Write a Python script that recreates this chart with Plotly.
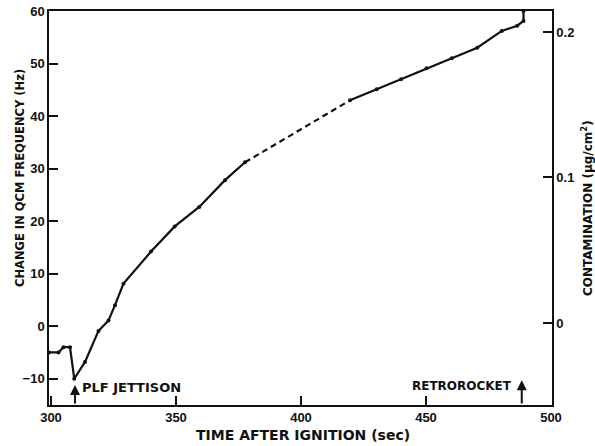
import plotly.graph_objects as go

# Solid measured segments (time after ignition, s ; change in QCM frequency, Hz)
t_early = [299.2, 303, 305, 307.6, 309.3, 313.6, 319, 323, 325.6, 329, 340, 349.5, 359.3, 369.6, 377.6]
hz_early = [-5, -5, -4, -4, -10, -6.8, -0.9, 1.1, 4, 8.1, 14.2, 19, 22.7, 27.8, 31.2]
# Dashed (interpolated gap)
t_gap = [377.6, 419.6]
hz_gap = [31.2, 43]
# Late solid segment
t_late = [419.6, 430.3, 440, 450.2, 460.3, 470.5, 480.3, 486.5, 489, 489]
hz_late = [43, 45.1, 47, 49.1, 51, 53, 56.2, 57.2, 58.1, 60]

x_ticks = [300, 350, 400, 450, 500]
y_ticks = [-10, 0, 10, 20, 30, 40, 50, 60]
c_ticks = [0, 0.1, 0.2]
c_labels = ["0", "0.1", "0.2"]

FONT = "Liberation Sans"
WIDE = "DejaVu Sans"
ink = "#111111"

fig = go.Figure()
fig.add_trace(go.Scatter(x=t_early, y=hz_early, mode="lines+markers",
                         line=dict(color=ink, width=2.2), marker=dict(size=4, color=ink),
                         showlegend=False))
fig.add_trace(go.Scatter(x=t_gap, y=hz_gap, mode="lines",
                         line=dict(color=ink, width=2.2, dash="6px,4px"), showlegend=False))
fig.add_trace(go.Scatter(x=t_late, y=hz_late, mode="lines+markers",
                         line=dict(color=ink, width=2.2), marker=dict(size=4, color=ink),
                         showlegend=False))
# invisible trace for secondary axis
fig.add_trace(go.Scatter(x=[300], y=[0], yaxis="y2", mode="markers",
                         marker=dict(opacity=0), showlegend=False, hoverinfo="skip"))

tickfont = dict(family=FONT, size=13, color=ink, weight="bold")

fig.update_layout(
    width=595, height=446,
    margin=dict(l=49, r=43, t=11, b=41),
    paper_bgcolor="white", plot_bgcolor="white",
    xaxis=dict(range=[299.2, 500.4], tickvals=x_ticks, ticks="inside", ticklen=9,
               tickwidth=1.5, tickcolor=ink, showline=True, linecolor=ink, linewidth=1.5,
               mirror=True, showgrid=False, zeroline=False, tickfont=tickfont, automargin=False),
    yaxis=dict(range=[-15, 60], tickvals=y_ticks, ticks="inside", ticklen=9,
               tickwidth=1.5, tickcolor=ink, showline=True, linecolor=ink, linewidth=1.5,
               showgrid=False, zeroline=False, tickfont=tickfont, automargin=False),
    yaxis2=dict(range=[-0.0564, 0.2144], overlaying="y", side="right",
                tickvals=c_ticks, ticktext=c_labels, ticks="inside", ticklen=9,
                tickwidth=1.5, tickcolor=ink, showline=True, linecolor=ink, linewidth=1.5,
                showgrid=False, zeroline=False, tickfont=tickfont, automargin=False),
)

fig.add_annotation(text="TIME AFTER IGNITION (sec)", xref="paper", yref="paper",
                   x=0.504, y=-0.076, xanchor="center", yanchor="middle", showarrow=False,
                   font=dict(family=WIDE, size=14, color=ink, weight="bold"))
fig.add_annotation(text="CHANGE IN QCM FREQUENCY (Hz)", xref="paper", yref="paper",
                   x=-0.0577, y=0.576, xanchor="center", yanchor="middle", textangle=-90,
                   showarrow=False, font=dict(family=WIDE, size=11.5, color=ink, weight="bold"))
fig.add_annotation(text="CONTAMINATION (μg/cm<sup>2</sup>)", xref="paper", yref="paper",
                   x=1.0696, y=0.5, xanchor="center", yanchor="middle", textangle=-90,
                   showarrow=False, font=dict(family=WIDE, size=12, color=ink, weight="bold"))

# Event arrows
fig.add_annotation(x=309.6, y=-11.2, ax=309.6, ay=-15, xref="x", yref="y", axref="x", ayref="y",
                   text="", showarrow=True, arrowhead=2, arrowsize=1, arrowwidth=2, arrowcolor=ink)
fig.add_annotation(text="PLF JETTISON", x=311.5, y=-11.6, xref="x", yref="y", xanchor="left",
                   showarrow=False, font=dict(family=WIDE, size=13, color=ink, weight="bold"))
fig.add_annotation(x=488.3, y=-10.3, ax=488.3, ay=-15, xref="x", yref="y", axref="x", ayref="y",
                   text="", showarrow=True, arrowhead=2, arrowsize=1, arrowwidth=2, arrowcolor=ink)
fig.add_annotation(text="RETROROCKET", x=485, y=-11.3, xref="x", yref="y", xanchor="right",
                   showarrow=False, font=dict(family=WIDE, size=12, color=ink, weight="bold"))

fig.write_html("out.html", config={"displayModeBar": False},
               post_script="document.body.style.margin='0';")
